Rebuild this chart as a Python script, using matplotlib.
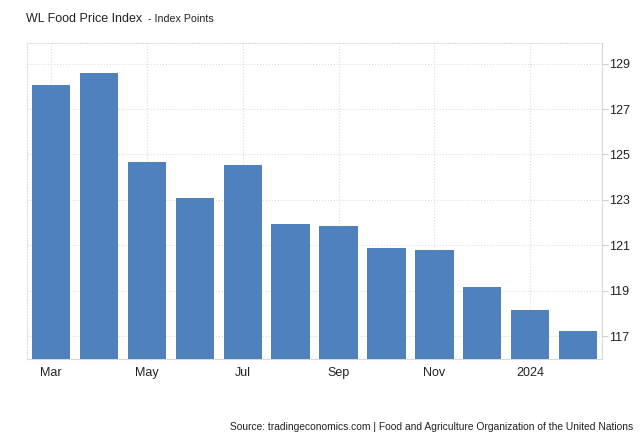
import matplotlib.pyplot as plt

plt.rcParams['font.family'] = ['Liberation Sans', 'DejaVu Sans']

# monthly index values, Mar 2023 - Feb 2024
months = ['Mar', 'Apr', 'May', 'Jun', 'Jul', 'Aug', 'Sep', 'Oct', 'Nov', 'Dec', 'Jan', 'Feb']
values = [128.05, 128.6, 124.65, 123.1, 124.55, 121.95, 121.85, 120.9, 120.8, 119.15, 118.15, 117.25]
tick_idx = [0, 2, 4, 6, 8, 10]
tick_labels = ['Mar', 'May', 'Jul', 'Sep', 'Nov', '2024']
y_ticks = [117, 119, 121, 123, 125, 127, 129]

fig = plt.figure(figsize=(6.44, 4.4), dpi=100)
ax = fig.add_axes([0.042, 0.184, 0.893, 0.718])

x = list(range(len(months)))
ax.bar(x, values, width=0.8, color='#4f81bd', zorder=3)

ax.set_xlim(-0.5, 11.5)
ax.set_ylim(116, 129.9)

ax.yaxis.tick_right()
ax.set_yticks(y_ticks)
ax.set_xticks(tick_idx)
ax.set_xticklabels(tick_labels)
ax.tick_params(axis='y', length=4, color='#d0d0d0', labelsize=9, labelcolor='#222222', pad=1)
ax.tick_params(axis='x', length=0, labelsize=9, labelcolor='#222222', pad=6)

ax.grid(True, color='#dcdcdc', linestyle=':', linewidth=0.8, zorder=0)

for side in ['top', 'left']:
    ax.spines[side].set_color('#dcdcdc')
    ax.spines[side].set_linestyle(':')
    ax.spines[side].set_linewidth(0.8)
ax.spines['right'].set_color('#d8d8d8')
ax.spines['bottom'].set_color('#d8d8d8')
ax.spines['right'].set_linewidth(0.8)
ax.spines['bottom'].set_linewidth(0.8)

fig.text(0.040, 0.95, 'WL Food Price Index', fontsize=9, color='#222222', va='baseline')
fig.text(0.230, 0.95, '- Index Points', fontsize=7.7, color='#222222', va='baseline')

fig.text(0.984, 0.023, 'Source: tradingeconomics.com | Food and Agriculture Organization of the United Nations',
         fontsize=7.4, color='#222222', ha='right', va='baseline')

fig.savefig('out.png', dpi=100)
